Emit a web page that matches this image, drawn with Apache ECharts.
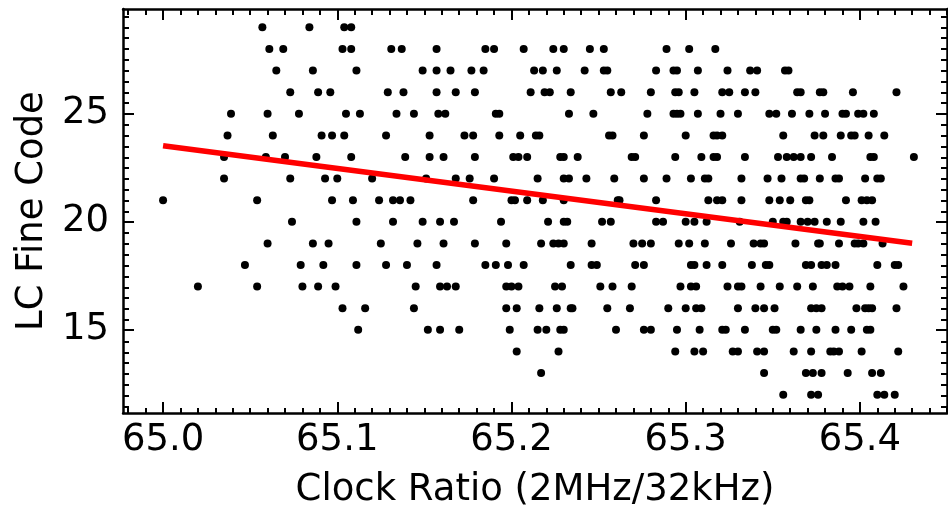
<!DOCTYPE html>
<html><head><meta charset="utf-8">
<script src="https://cdn.jsdelivr.net/npm/echarts@6/dist/echarts.min.js"></script>
<style>html,body{margin:0;padding:0;background:#fff}#c{width:948px;height:514px}</style>
</head><body><div id="c"></div>
<script>
// Clock ratio values for each LC fine code (one array per code)
const ratios12 = [65.356, 65.372, 65.376, 65.410, 65.414, 65.420];
const ratios13 = [65.217, 65.345, 65.369, 65.373, 65.378, 65.393, 65.407, 65.412];
const ratios14 = [65.203, 65.227, 65.294, 65.305, 65.310, 65.327, 65.330, 65.341, 65.345, 65.362, 65.372, 65.383, 65.385, 65.388, 65.401, 65.422];
const ratios15 = [65.112, 65.152, 65.159, 65.170, 65.199, 65.215, 65.220, 65.228, 65.230, 65.260, 65.276, 65.280, 65.295, 65.308, 65.321, 65.323, 65.334, 65.350, 65.352, 65.366, 65.375, 65.386, 65.395, 65.404, 65.406];
const ratios16 = [65.103, 65.116, 65.144, 65.197, 65.203, 65.216, 65.226, 65.234, 65.235, 65.255, 65.268, 65.290, 65.300, 65.306, 65.309, 65.330, 65.340, 65.345, 65.351, 65.372, 65.375, 65.378, 65.398, 65.403, 65.405, 65.407, 65.421];
const ratios17 = [65.020, 65.054, 65.080, 65.089, 65.099, 65.145, 65.159, 65.163, 65.168, 65.197, 65.200, 65.204, 65.225, 65.229, 65.251, 65.258, 65.269, 65.297, 65.303, 65.306, 65.324, 65.330, 65.332, 65.343, 65.354, 65.364, 65.373, 65.387, 65.390, 65.394, 65.406, 65.425];
const ratios18 = [65.047, 65.079, 65.092, 65.111, 65.128, 65.140, 65.157, 65.185, 65.191, 65.198, 65.207, 65.234, 65.246, 65.249, 65.271, 65.276, 65.303, 65.305, 65.312, 65.321, 65.338, 65.346, 65.348, 65.369, 65.372, 65.378, 65.381, 65.386, 65.410, 65.420, 65.422];
const ratios19 = [65.060, 65.086, 65.095, 65.125, 65.146, 65.161, 65.179, 65.197, 65.217, 65.224, 65.227, 65.230, 65.246, 65.270, 65.275, 65.280, 65.296, 65.302, 65.311, 65.326, 65.339, 65.343, 65.345, 65.363, 65.376, 65.377, 65.388, 65.397, 65.399, 65.402, 65.413];
const ratios20 = [65.074, 65.111, 65.132, 65.149, 65.159, 65.167, 65.194, 65.221, 65.230, 65.232, 65.252, 65.257, 65.283, 65.287, 65.300, 65.305, 65.312, 65.331, 65.350, 65.356, 65.358, 65.366, 65.370, 65.374, 65.381, 65.389, 65.402, 65.409];
const ratios21 = [65.000, 65.054, 65.097, 65.109, 65.124, 65.132, 65.136, 65.142, 65.178, 65.200, 65.202, 65.209, 65.218, 65.230, 65.261, 65.262, 65.283, 65.313, 65.318, 65.321, 65.332, 65.348, 65.354, 65.360, 65.369, 65.371, 65.392, 65.401, 65.404, 65.407];
const ratios22 = [65.035, 65.073, 65.093, 65.100, 65.120, 65.151, 65.168, 65.176, 65.190, 65.215, 65.230, 65.233, 65.243, 65.259, 65.276, 65.289, 65.303, 65.311, 65.313, 65.332, 65.347, 65.355, 65.366, 65.368, 65.377, 65.386, 65.388, 65.403, 65.410, 65.412];
const ratios23 = [65.035, 65.059, 65.070, 65.088, 65.108, 65.139, 65.153, 65.161, 65.179, 65.201, 65.204, 65.209, 65.228, 65.230, 65.238, 65.269, 65.271, 65.294, 65.309, 65.316, 65.318, 65.334, 65.353, 65.358, 65.362, 65.366, 65.372, 65.384, 65.406, 65.408, 65.431];
const ratios24 = [65.037, 65.063, 65.091, 65.097, 65.104, 65.128, 65.153, 65.173, 65.178, 65.193, 65.205, 65.214, 65.216, 65.256, 65.258, 65.276, 65.300, 65.316, 65.318, 65.321, 65.356, 65.374, 65.379, 65.389, 65.395, 65.397, 65.405, 65.414];
const ratios25 = [65.039, 65.060, 65.078, 65.105, 65.113, 65.134, 65.144, 65.158, 65.162, 65.191, 65.193, 65.233, 65.247, 65.278, 65.293, 65.295, 65.297, 65.307, 65.320, 65.330, 65.348, 65.352, 65.361, 65.371, 65.380, 65.390, 65.392, 65.399, 65.402, 65.408];
const ratios26 = [65.073, 65.089, 65.096, 65.129, 65.138, 65.157, 65.168, 65.179, 65.211, 65.219, 65.222, 65.234, 65.257, 65.263, 65.280, 65.294, 65.296, 65.305, 65.321, 65.325, 65.334, 65.340, 65.364, 65.366, 65.377, 65.379, 65.396, 65.421];
const ratios27 = [65.065, 65.086, 65.111, 65.149, 65.157, 65.165, 65.177, 65.184, 65.213, 65.218, 65.226, 65.242, 65.253, 65.255, 65.283, 65.293, 65.295, 65.307, 65.324, 65.337, 65.341, 65.357, 65.359];
const ratios28 = [65.061, 65.069, 65.103, 65.108, 65.131, 65.137, 65.157, 65.185, 65.190, 65.207, 65.224, 65.230, 65.245, 65.253, 65.289, 65.302, 65.317];
const ratios29 = [65.057, 65.084, 65.104, 65.108];

const fineCodes = [12, 13, 14, 15, 16, 17, 18, 19, 20, 21, 22, 23, 24, 25, 26, 27, 28, 29];
const ratioRows = [ratios12, ratios13, ratios14, ratios15, ratios16, ratios17, ratios18, ratios19, ratios20, ratios21, ratios22, ratios23, ratios24, ratios25, ratios26, ratios27, ratios28, ratios29];

// Linear fit line end points
const fitRatio = [65.0, 65.43];
const fitCode = [23.52, 19.01];

// Axes
const xMin = 64.977, xMax = 65.450;
const yMin = 11.15, yMax = 29.85;
const xTicks = [65.0, 65.1, 65.2, 65.3, 65.4];
const xTickLabels = ['65.0', '65.1', '65.2', '65.3', '65.4'];
const yTicks = [15, 20, 25];
const yTickLabels = ['15', '20', '25'];

const xMinor = [];
for (let i = 6498; i <= 6545; i++) { if (i % 10 !== 0) xMinor.push(i / 100); }
const yMinor = [];
for (let i = 23; i <= 59; i++) { if (i % 10 !== 0) yMinor.push(i / 2); }

const points = [];
fineCodes.forEach((c, i) => ratioRows[i].forEach(r => points.push([r, c])));

const FONT = 'DejaVu Sans';
const FS = 37;
const gridRect = { left: 123, right: 1, top: 9, bottom: 100 };

function axis(kind, gridIndex, position, ticks, len, opts) {
  const isX = kind === 'x';
  const a = {
    type: 'value', gridIndex, position,
    min: isX ? xMin : yMin, max: isX ? xMax : yMax,
    axisLine: { show: gridIndex === 0, onZero: false, lineStyle: { color: '#000', width: 2.5 } },
    axisTick: { show: true, inside: true, length: len, customValues: ticks, lineStyle: { color: '#000', width: 2 } },
    axisLabel: { show: false },
    splitLine: { show: false },
    minorTick: { show: false }, minorSplitLine: { show: false }
  };
  return Object.assign(a, opts || {});
}

const chart = echarts.init(document.getElementById('c'), null, { renderer: 'canvas' });
chart.setOption({
  backgroundColor: '#fff',
  animation: false,
  grid: [Object.assign({}, gridRect), Object.assign({}, gridRect)],
  xAxis: [
    axis('x', 0, 'bottom', xTicks, 11, {
      axisLabel: { show: true, customValues: xTicks, formatter: v => xTickLabels[xTicks.findIndex(t => Math.abs(t - v) < 1e-6)], color: '#000', fontSize: FS, fontFamily: FONT, margin: 9 },
      name: 'Clock Ratio (2MHz/32kHz)', nameLocation: 'middle', nameGap: 59,
      nameTextStyle: { color: '#000', fontSize: FS, fontFamily: FONT }
    }),
    axis('x', 0, 'top', xTicks, 11),
    axis('x', 1, 'bottom', xMinor, 6),
    axis('x', 1, 'top', xMinor, 6)
  ],
  yAxis: [
    axis('y', 0, 'left', yTicks, 11, {
      axisLabel: { show: true, customValues: yTicks, formatter: v => yTickLabels[yTicks.findIndex(t => Math.abs(t - v) < 1e-6)], color: '#000', fontSize: FS, fontFamily: FONT, margin: 14 },
      name: 'LC Fine Code', nameLocation: 'middle', nameGap: 64,
      nameTextStyle: { color: '#000', fontSize: FS, fontFamily: FONT }
    }),
    axis('y', 0, 'right', yTicks, 11),
    axis('y', 1, 'left', yMinor, 6),
    axis('y', 1, 'right', yMinor, 6)
  ],
  series: [
    {
      type: 'scatter', xAxisIndex: 0, yAxisIndex: 0,
      data: points, symbol: 'circle', symbolSize: 8,
      itemStyle: { color: '#000', opacity: 1 }, z: 2, silent: true
    },
    {
      type: 'line', xAxisIndex: 0, yAxisIndex: 0,
      data: fitRatio.map((r, i) => [r, fitCode[i]]),
      showSymbol: false, symbol: 'none',
      lineStyle: { color: '#ff0000', width: 5.5 }, z: 3, silent: true
    }
  ]
});
</script></body></html>
